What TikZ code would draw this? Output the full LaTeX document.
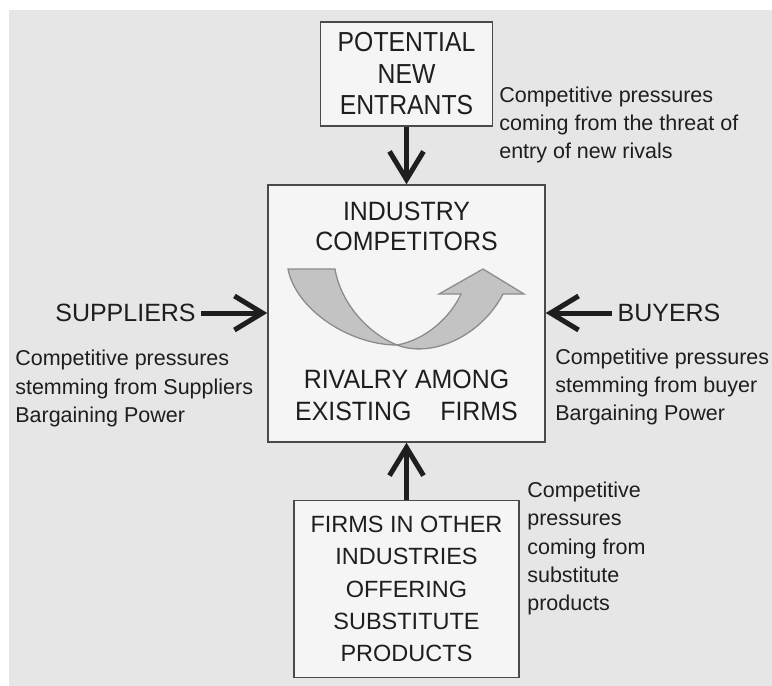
\documentclass[tikz,border=0pt]{standalone}
\usepackage{fontspec}
\setmainfont{Liberation Sans}
\newfontfamily\narrowfont[FakeStretch=0.9]{Liberation Sans}
\newfontfamily\semifont[FakeStretch=0.94]{Liberation Sans}
\usepackage{tikz}
\usetikzlibrary{arrows.meta, positioning}

\definecolor{bggray}{HTML}{E6E6E6}
\definecolor{boxfill}{HTML}{F5F5F5}
\definecolor{boxgray}{HTML}{4A4A4A}
\definecolor{inkgray}{HTML}{1E1E1E}
\definecolor{swooshfill}{HTML}{C3C3C3}
\definecolor{swooshedge}{HTML}{8C8C8C}

\begin{document}
\begin{tikzpicture}[x=1pt,y=-1pt,>={Straight Barb[length=28pt,width=34pt]},
                    semithick]
\tikzstyle{force box}=[draw=boxgray,fill=boxfill,line width=1.5pt,inner sep=0pt,align=center,text=inkgray]
\tikzstyle{pressure}=[align=left,text=inkgray,inner sep=0pt,font=\fontsize{21.5pt}{28.3pt}\selectfont]
\tikzstyle{player}=[text=inkgray,inner sep=5pt,font=\fontsize{25pt}{30pt}\selectfont]
\tikzstyle{force}=[->,line width=5pt,draw=inkgray]
\tikzstyle{swoosh}=[fill=swooshfill,draw=swooshedge,line width=1.3pt,line join=miter]
\tikzset{font=\fontsize{26pt}{31.5pt}\selectfont}

        \useasboundingbox (0,0) rectangle (772,686);
        \clip (0,0) rectangle (772,686);
        \fill[white] (0,0) rectangle (772,686);
        \fill[bggray] (9,10) rectangle (772,686);

        % the five forces
        \node[force box,minimum width=172pt,minimum height=104pt,
              font=\narrowfont\fontsize{27.5pt}{31.5pt}\selectfont]     (entrants)    at (406.5,74)    {POTENTIAL\\NEW\\ENTRANTS};
        \node[force box,minimum width=277pt,minimum height=257pt]       (rivalry)     at (406.5,313.5) {};
        \node[force box,minimum width=225pt,minimum height=177pt,
              font=\fontsize{23.5pt}{32.2pt}\selectfont]                (substitutes) at (406.5,589) {FIRMS IN OTHER\\INDUSTRIES\\OFFERING\\SUBSTITUTE\\PRODUCTS};
        \node[player]                                                   (suppliers)   at (125.5,313)   {SUPPLIERS};
        \node[player]                                                   (buyers)      at (669,313)     {BUYERS};

        % inside the rivalry box
        \node[align=center,text=inkgray,inner sep=0pt,
              font=\semifont\fontsize{26.5pt}{30pt}\selectfont]         (industry)    at (406.5,226)   {INDUSTRY\\COMPETITORS};
        \node[align=center,text=inkgray,inner sep=0pt,
              font=\semifont\fontsize{26.5pt}{32pt}\selectfont]         (among)       at (406.5,395)   {RIVALRY AMONG\\EXISTING\hspace{22pt} FIRMS};

        \draw[swoosh] (288,269) -- (335,269) .. controls (340,300) and (365,332) .. (397,345)
                      .. controls (350,345) and (296,310) .. (288,269) -- cycle;
        \draw[swoosh] (397,345) .. controls (430,358) and (480,338) .. (503,294) -- (524,294) -- (483,269)
                      -- (439,294) -- (461,294) .. controls (450,318) and (425,340) .. (397,345) -- cycle;

        % notes
        \node[pressure,anchor=west] (entry note)      at (499,125)   {Competitive pressures\\coming from the threat of\\entry of new rivals};
        \node[pressure,anchor=west] (supplier note)   at (15,388.5)  {Competitive pressures\\stemming from Suppliers\\Bargaining Power};
        \node[pressure,anchor=west] (buyer note)      at (555,387)   {Competitive pressures\\stemming from buyer\\Bargaining Power};
        \node[pressure,anchor=west] (substitute note) at (527,548.5) {Competitive\\pressures\\coming from\\substitute\\products};

        \draw[force] (entrants.south)    -- (rivalry.north);
        \draw[force] (substitutes.north) -- (rivalry.south);
        \draw[force] (suppliers.east)    -- (rivalry.west |- suppliers);
        \draw[force] (buyers.west)       -- (rivalry.east |- buyers);

\end{tikzpicture}
\end{document}
